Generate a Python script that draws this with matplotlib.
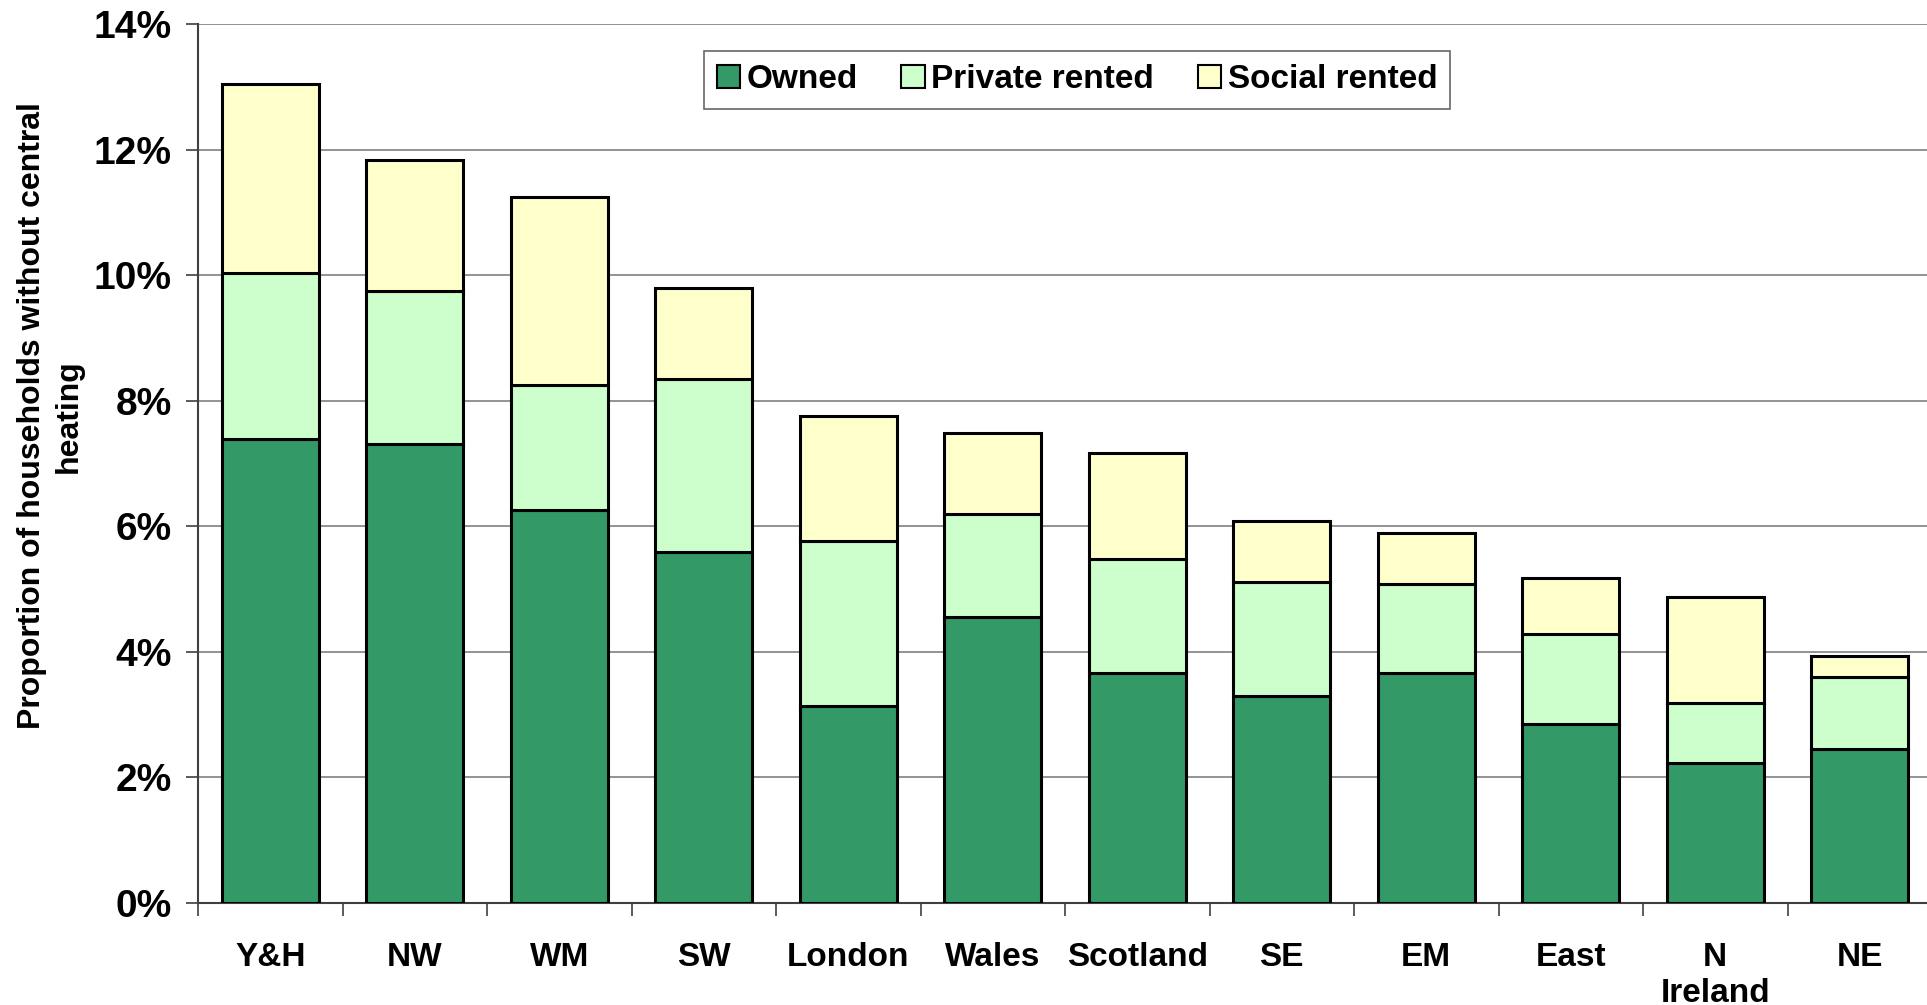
import matplotlib
matplotlib.use('Agg')
import matplotlib.pyplot as plt
import numpy as np
from matplotlib.ticker import FuncFormatter, FixedLocator

plt.rcParams['font.family'] = ['Liberation Sans', 'DejaVu Sans']
plt.rcParams['font.weight'] = 'bold'

regions = ["Y&H", "NW", "WM", "SW", "London", "Wales", "Scotland",
           "SE", "EM", "East", "N\nIreland", "NE"]
owned = [7.39, 7.31, 6.26, 5.59, 3.13, 4.56, 3.66, 3.29, 3.66, 2.85, 2.23, 2.46]
private_rented = [2.64, 2.43, 1.99, 2.76, 2.64, 1.64, 1.82, 1.83, 1.42, 1.43, 0.96, 1.14]
social_rented = [3.01, 2.09, 2.99, 1.45, 1.99, 1.29, 1.68, 0.96, 0.81, 0.90, 1.68, 0.33]

series = [("Owned", owned, "#339966"),
          ("Private rented", private_rented, "#CCFFCC"),
          ("Social rented", social_rented, "#FFFFCC")]

fig = plt.figure(figsize=(19.27, 10.05), dpi=100)
ax = fig.add_axes([198 / 1927, 102 / 1005, 1734 / 1927, 879 / 1005])

x = np.arange(len(regions))
bottom = np.zeros(len(regions))
for name, vals, color in series:
    ax.bar(x, vals, width=0.67, bottom=bottom, color=color, edgecolor='black',
           linewidth=2.2, label=name, zorder=3)
    bottom += np.array(vals)

ax.set_xlim(-0.5, len(regions) - 0.5)
ax.set_ylim(0, 14)
ax.set_yticks(np.arange(0, 15, 2))
ax.yaxis.set_major_formatter(FuncFormatter(lambda v, p: f"{v:.0f}%"))
ax.grid(axis='y', color='#808080', linewidth=1.2, zorder=0)

# category labels at bar centres, tick marks between categories
ax.set_xticks(x)
ax.set_xticklabels(regions, fontsize=24, fontweight='bold', linespacing=1.2)
ax.tick_params(axis='x', which='major', length=0, pad=28)
ax.xaxis.set_minor_locator(FixedLocator(np.arange(-0.5, len(regions), 1)))
ax.tick_params(axis='x', which='minor', length=9, width=1.2, color='#404040', direction='out')
ax.tick_params(axis='y', length=9, width=1.2, color='#404040', direction='out',
               labelsize=28, pad=10)
for lab in ax.get_yticklabels():
    lab.set_fontweight('bold')

for s in ['top', 'right']:
    ax.spines[s].set_visible(False)
ax.spines['left'].set_color('#404040')
ax.spines['left'].set_linewidth(1.5)
ax.spines['bottom'].set_color('#404040')
ax.spines['bottom'].set_linewidth(1.5)

ax.set_ylabel("Proportion of households without central\nheating", fontsize=23,
              fontweight='bold', linespacing=1.3)
ax.yaxis.set_label_coords(-0.066, 0.554)

leg = fig.legend(loc='upper center', bbox_to_anchor=(1077 / 1927, 1 - 51 / 1005),
                 ncol=3, fontsize=24, frameon=True, fancybox=False, borderaxespad=0,
                 handlelength=0.7, handleheight=0.7, handletextpad=0.2,
                 columnspacing=1.3, borderpad=0.4)
leg.get_frame().set_edgecolor('#404040')
leg.get_frame().set_linewidth(1.2)
for t in leg.get_texts():
    t.set_fontweight('bold')
for h in leg.legend_handles:
    h.set_linewidth(1.5)

fig.savefig("out.png", dpi=100)
